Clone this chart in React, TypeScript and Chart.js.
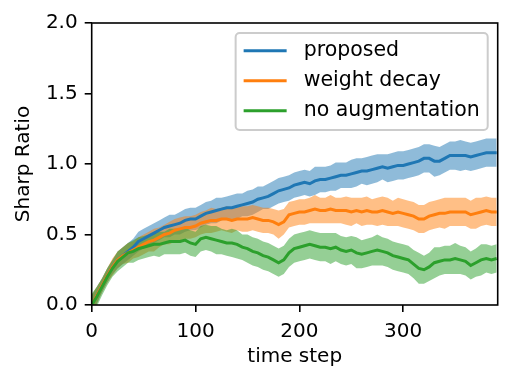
import React, { useEffect, useRef } from "react";
import { Chart, registerables } from "chart.js";

Chart.register(...registerables);

const timeSteps = [
  0, 5, 10, 15, 20, 25, 30, 35, 40, 45, 50, 55, 60, 65, 70, 75, 80, 85, 90, 95, 100,
  105, 110, 115, 120, 125, 130, 135, 140, 145, 150, 155, 160, 165, 170, 175, 180, 185, 190, 195, 200,
  205, 210, 215, 220, 225, 230, 235, 240, 245, 250, 255, 260, 265, 270, 275, 280, 285, 290, 295, 300,
  305, 310, 315, 320, 325, 330, 335, 340, 345, 350, 355, 360, 365, 370, 375, 380, 385, 390,
];

const proposedMean = [
  0.0, 0.07, 0.14, 0.21, 0.27, 0.32, 0.35, 0.38, 0.41, 0.45, 0.47, 0.49, 0.51, 0.53, 0.55, 0.56, 0.57, 0.58, 0.6, 0.61, 0.61,
  0.63, 0.65, 0.66, 0.67, 0.68, 0.69, 0.69, 0.7, 0.71, 0.72, 0.73, 0.75, 0.76, 0.77, 0.79, 0.81, 0.82, 0.83, 0.85, 0.86,
  0.87, 0.86, 0.88, 0.89, 0.89, 0.9, 0.91, 0.92, 0.92, 0.93, 0.94, 0.95, 0.95, 0.96, 0.97, 0.98, 0.97, 0.98, 0.99, 0.99,
  1.0, 1.01, 1.02, 1.04, 1.04, 1.02, 1.02, 1.04, 1.06, 1.06, 1.06, 1.06, 1.05, 1.06, 1.07, 1.08, 1.08, 1.08,
];
const proposedBand = [
  0.07, 0.06, 0.05, 0.05, 0.05, 0.06, 0.06, 0.06, 0.06, 0.07, 0.07, 0.07, 0.07, 0.07, 0.07, 0.08, 0.07, 0.08, 0.08, 0.08, 0.08,
  0.08, 0.08, 0.08, 0.09, 0.08, 0.08, 0.09, 0.09, 0.08, 0.09, 0.09, 0.09, 0.08, 0.09, 0.09, 0.09, 0.09, 0.09, 0.09, 0.09,
  0.09, 0.09, 0.1, 0.09, 0.09, 0.09, 0.1, 0.09, 0.09, 0.1, 0.1, 0.09, 0.1, 0.1, 0.1, 0.09, 0.1, 0.1, 0.1, 0.1,
  0.1, 0.1, 0.1, 0.1, 0.1, 0.11, 0.1, 0.1, 0.1, 0.1, 0.11, 0.1, 0.1, 0.1, 0.1, 0.1, 0.1, 0.1,
];

const weightDecayMean = [
  0.0, 0.07, 0.14, 0.21, 0.27, 0.32, 0.35, 0.37, 0.39, 0.41, 0.43, 0.45, 0.46, 0.48, 0.5, 0.51, 0.53, 0.54, 0.55, 0.55, 0.56,
  0.58, 0.59, 0.6, 0.6, 0.61, 0.61, 0.6, 0.61, 0.61, 0.61, 0.62, 0.61, 0.6, 0.6, 0.59, 0.57, 0.59, 0.64, 0.65, 0.66,
  0.66, 0.67, 0.68, 0.67, 0.67, 0.68, 0.67, 0.67, 0.67, 0.66, 0.67, 0.66, 0.67, 0.66, 0.66, 0.67, 0.66, 0.65, 0.66, 0.65,
  0.64, 0.63, 0.61, 0.61, 0.63, 0.64, 0.65, 0.65, 0.66, 0.66, 0.66, 0.66, 0.64, 0.65, 0.66, 0.67, 0.66, 0.66,
];
const weightDecayBand = [
  0.07, 0.06, 0.05, 0.05, 0.06, 0.06, 0.06, 0.07, 0.06, 0.07, 0.07, 0.07, 0.08, 0.07, 0.07, 0.08, 0.08, 0.08, 0.08, 0.08, 0.08,
  0.08, 0.08, 0.09, 0.08, 0.08, 0.09, 0.09, 0.08, 0.09, 0.09, 0.09, 0.09, 0.09, 0.09, 0.09, 0.1, 0.09, 0.09, 0.09, 0.09,
  0.09, 0.09, 0.1, 0.09, 0.09, 0.1, 0.09, 0.09, 0.1, 0.1, 0.09, 0.1, 0.1, 0.09, 0.1, 0.1, 0.1, 0.09, 0.1, 0.1,
  0.1, 0.1, 0.1, 0.1, 0.1, 0.1, 0.1, 0.11, 0.1, 0.1, 0.1, 0.1, 0.1, 0.11, 0.1, 0.1, 0.1, 0.1,
];

const noAugMean = [
  0.0, 0.06, 0.13, 0.2, 0.26, 0.31, 0.34, 0.37, 0.38, 0.4, 0.41, 0.42, 0.43, 0.43, 0.44, 0.45, 0.45, 0.45, 0.46, 0.44, 0.43,
  0.47, 0.48, 0.47, 0.46, 0.45, 0.44, 0.44, 0.43, 0.41, 0.4, 0.38, 0.37, 0.35, 0.34, 0.32, 0.3, 0.32, 0.37, 0.4, 0.41,
  0.42, 0.43, 0.42, 0.41, 0.41, 0.4, 0.41, 0.39, 0.38, 0.39, 0.37, 0.36, 0.37, 0.38, 0.39, 0.38, 0.37, 0.35, 0.34, 0.33,
  0.32, 0.29, 0.26, 0.25, 0.27, 0.3, 0.31, 0.32, 0.32, 0.33, 0.32, 0.31, 0.28, 0.3, 0.32, 0.33, 0.32, 0.33,
];
const noAugBand = [
  0.08, 0.07, 0.06, 0.06, 0.06, 0.07, 0.07, 0.07, 0.08, 0.08, 0.08, 0.08, 0.08, 0.09, 0.08, 0.09, 0.09, 0.09, 0.09, 0.09, 0.09,
  0.09, 0.09, 0.09, 0.1, 0.09, 0.09, 0.1, 0.1, 0.09, 0.1, 0.1, 0.1, 0.1, 0.1, 0.1, 0.1, 0.1, 0.1, 0.1, 0.1,
  0.1, 0.1, 0.1, 0.1, 0.1, 0.11, 0.1, 0.1, 0.1, 0.1, 0.11, 0.1, 0.1, 0.1, 0.11, 0.1, 0.1, 0.1, 0.1, 0.1,
  0.1, 0.1, 0.11, 0.1, 0.1, 0.11, 0.1, 0.1, 0.1, 0.11, 0.1, 0.1, 0.1, 0.1, 0.11, 0.1, 0.1, 0.1,
];

const seriesLabels = ["proposed", "weight decay", "no augmentation"];
const seriesColors = ["#1f77b4", "#ff7f0e", "#2ca02c"];
const bandColors = ["rgba(31,119,180,0.5)", "rgba(255,127,14,0.5)", "rgba(44,160,44,0.5)"];
const xTicks = [0, 100, 200, 300];
const yTicks = [0, 0.5, 1.0, 1.5, 2.0];
const xMax = 391;
const yMax = 2.0;
const xTitle = "time step";
const yTitle = "Sharp Ratio";

const FONT = '"DejaVu Sans", sans-serif';

const pts = (vals: number[]) => timeSteps.map((t, i) => ({ x: t, y: vals[i] }));
const ptsOff = (vals: number[], band: number[], sign: number) =>
  timeSteps.map((t, i) => ({ x: t, y: vals[i] + sign * band[i] }));

const framePlugin = {
  id: "mplFrame",
  afterDatasetsDraw(chart: any) {
    const { ctx, chartArea: a } = chart;
    ctx.save();
    ctx.strokeStyle = "#000";
    ctx.lineWidth = 1.6;
    ctx.strokeRect(a.left, a.top, a.right - a.left, a.bottom - a.top);
    ctx.restore();
  },
};

const legendPlugin = {
  id: "mplLegend",
  afterDraw(chart: any) {
    const { ctx, chartArea: a } = chart;
    ctx.save();
    ctx.font = `20.5px ${FONT}`;
    const textW = Math.max(...seriesLabels.map((l) => ctx.measureText(l).width));
    const w = 8 + 43 + 17 + textW + 8;
    const h = 97;
    const right = a.right - 10;
    const top = a.top + 10;
    const left = right - w;
    ctx.beginPath();
    (ctx as any).roundRect(left, top, w, h, 4);
    ctx.fillStyle = "rgba(255,255,255,0.8)";
    ctx.fill();
    ctx.strokeStyle = "#cccccc";
    ctx.lineWidth = 2;
    ctx.stroke();
    seriesLabels.forEach((lab, i) => {
      const cy = top + 17.7 + i * 30;
      ctx.beginPath();
      ctx.moveTo(left + 8, cy);
      ctx.lineTo(left + 51, cy);
      ctx.strokeStyle = seriesColors[i];
      ctx.lineWidth = 3;
      ctx.stroke();
      ctx.fillStyle = "#000";
      ctx.textBaseline = "middle";
      ctx.textAlign = "left";
      ctx.fillText(lab, left + 68, cy);
    });
    ctx.restore();
  },
};

export default function App() {
  const ref = useRef<HTMLCanvasElement>(null);

  useEffect(() => {
    if (!ref.current) return;
    const means = [proposedMean, weightDecayMean, noAugMean];
    const bands = [proposedBand, weightDecayBand, noAugBand];
    const datasets: any[] = [];
    means.forEach((m, i) => {
      datasets.push({
        label: seriesLabels[i],
        data: pts(m),
        borderColor: seriesColors[i],
        backgroundColor: seriesColors[i],
        borderWidth: 3,
        pointRadius: 0,
        fill: false,
        tension: 0,
        order: 3 - i,
      });
    });
    means.forEach((m, i) => {
      const upperIdx = 3 + 2 * i;
      datasets.push({
        label: seriesLabels[i] + " upper",
        data: ptsOff(m, bands[i], 1),
        borderWidth: 0,
        borderColor: "rgba(0,0,0,0)",
        backgroundColor: bandColors[i],
        pointRadius: 0,
        fill: upperIdx + 1,
        tension: 0,
        order: 10 - i,
      });
      datasets.push({
        label: seriesLabels[i] + " lower",
        data: ptsOff(m, bands[i], -1),
        borderWidth: 0,
        borderColor: "rgba(0,0,0,0)",
        backgroundColor: "rgba(0,0,0,0)",
        pointRadius: 0,
        fill: false,
        tension: 0,
        order: 10 - i,
      });
    });

    const chart = new Chart(ref.current, {
      type: "line",
      data: { datasets },
      options: {
        responsive: false,
        animation: false,
        devicePixelRatio: 1,
        layout: { padding: { left: 0, right: 14.3, top: 23, bottom: 0 } },
        plugins: {
          legend: { display: false },
          tooltip: { enabled: false },
        },
        scales: {
          x: {
            type: "linear",
            min: 0,
            max: xMax,
            border: { display: false },
            grid: {
              display: true,
              drawOnChartArea: false,
              drawTicks: true,
              tickLength: 7,
              tickWidth: 1.6,
              tickColor: "#000",
              color: "#000",
              lineWidth: 1.6,
            },
            ticks: {
              color: "#000",
              font: { family: FONT, size: 20 },
              padding: 8,
              maxRotation: 0,
              callback: (v: any) => String(v),
            },
            afterBuildTicks: (s: any) => {
              s.ticks = xTicks.map((v) => ({ value: v }));
            },
            afterFit: (s: any) => {
              s.height = 79;
            },
            title: {
              display: true,
              text: xTitle,
              color: "#000",
              font: { family: FONT, size: 20 },
              padding: { top: 0, bottom: 15.7 },
            },
          },
          y: {
            type: "linear",
            min: 0,
            max: yMax,
            border: { display: false },
            grid: {
              display: true,
              drawOnChartArea: false,
              drawTicks: true,
              tickLength: 7,
              tickWidth: 1.6,
              tickColor: "#000",
              color: "#000",
              lineWidth: 1.6,
            },
            ticks: {
              color: "#000",
              font: { family: FONT, size: 20 },
              padding: 7,
              callback: (v: any) => Number(v).toFixed(1),
            },
            afterBuildTicks: (s: any) => {
              s.ticks = yTicks.map((v) => ({ value: v }));
            },
            afterFit: (s: any) => {
              s.width = 91.7;
            },
            title: {
              display: true,
              text: yTitle,
              color: "#000",
              font: { family: FONT, size: 20 },
              padding: { top: 11.5, bottom: 0 },
            },
          },
        },
      },
      plugins: [framePlugin, legendPlugin],
    });
    return () => chart.destroy();
  }, []);

  return (
    <div style={{ position: "absolute", left: 0, top: 0, width: 512, height: 384, background: "#fff" }}>
      <canvas ref={ref} width={512} height={384} style={{ display: "block", width: 512, height: 384 }} />
    </div>
  );
}
